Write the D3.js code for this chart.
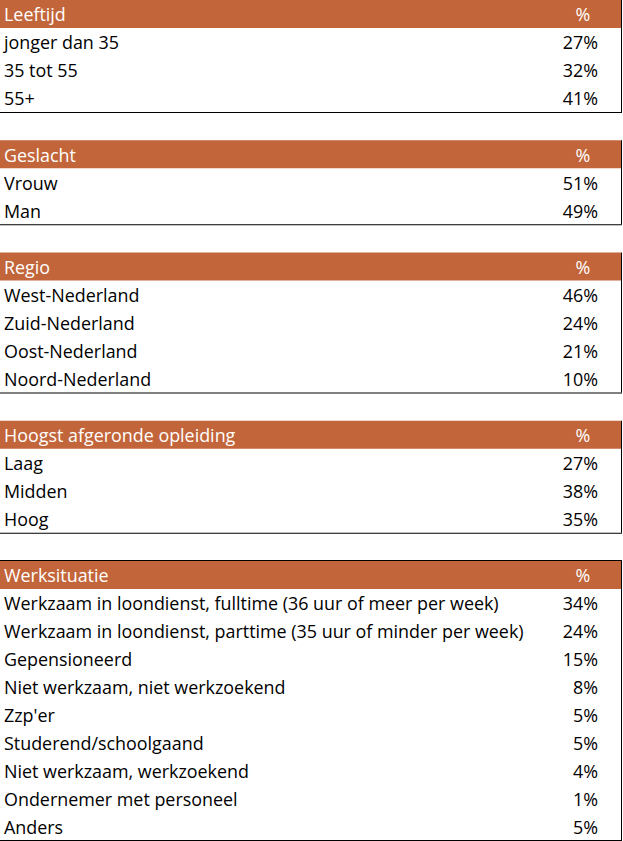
<!DOCTYPE html>
<html>
<head>
<meta charset="utf-8">
<script src="https://cdn.jsdelivr.net/npm/d3@7"></script>
<style>
  html, body { margin: 0; padding: 0; background: #fff; }
  svg { display: block; }
  text { font-family: "Open Sans", Lato, sans-serif; font-weight: 500; }
</style>
</head>
<body>
<div id="chart"></div>
<script>
// section titles
const sections = ['Leeftijd', 'Geslacht', 'Regio', 'Hoogst afgeronde opleiding', 'Werksituatie'];

// rows + values per section
const leeftijdCats = ['jonger dan 35', '35 tot 55', '55+'];
const leeftijdVals = [27, 32, 41];

const geslachtCats = ['Vrouw', 'Man'];
const geslachtVals = [51, 49];

const regioCats = ['West-Nederland', 'Zuid-Nederland', 'Oost-Nederland', 'Noord-Nederland'];
const regioVals = [46, 24, 21, 10];

const opleidingCats = ['Laag', 'Midden', 'Hoog'];
const opleidingVals = [27, 38, 35];

const werkCats = [
    'Werkzaam in loondienst, fulltime (36 uur of meer per week)',
    'Werkzaam in loondienst, parttime (35 uur of minder per week)',
    'Gepensioneerd',
    'Niet werkzaam, niet werkzoekend',
    "Zzp'er",
    'Studerend/schoolgaand',
    'Niet werkzaam, werkzoekend',
    'Ondernemer met personeel',
    'Anders'
];
const werkVals = [34, 24, 15, 8, 5, 5, 4, 1, 5];

const allCats = [leeftijdCats, geslachtCats, regioCats, opleidingCats, werkCats];
const allVals = [leeftijdVals, geslachtVals, regioVals, opleidingVals, werkVals];

const width = 623, height = 841;
const rowH = 28, gap = 28.25;
const tableRight = 621;
const orange = '#c3653a';
const fontSize = '17.9px';

let svg = d3.select('#chart').append('svg')
    .attr('width', width)
    .attr('height', height);

// vertical offsets of every table
let tops = [];
let acc = 0;
allCats.forEach(function(c) {
    tops.push(acc);
    acc += (c.length + 1) * rowH + gap;
});

sections.forEach(function(title, s) {
    let cats = allCats[s];
    let vals = allVals[s];
    let top = tops[s];
    let nRows = cats.length + 1;

    // row scale: header + data rows
    let y = d3.scaleBand()
        .domain(d3.range(nRows))
        .range([top, top + nRows * rowH]);

    let g = svg.append('g').attr('class', 'table');

    // header band
    g.append('rect')
        .attr('x', 0)
        .attr('y', y(0))
        .attr('width', tableRight)
        .attr('height', y.bandwidth())
        .attr('fill', orange);

    g.append('text')
        .attr('x', 4)
        .attr('y', y(0) + y.bandwidth() / 2 + 1)
        .attr('dy', '0.36em')
        .attr('fill', '#fff')
        .style('font-size', fontSize)
        .text(title);

    g.append('text')
        .attr('x', 583)
        .attr('y', y(0) + y.bandwidth() / 2 + 1)
        .attr('dy', '0.36em')
        .attr('text-anchor', 'middle')
        .attr('fill', '#fff')
        .style('font-size', fontSize)
        .text('%');

    // data rows
    let rows = g.selectAll('g.row')
        .data(cats)
        .enter().append('g')
        .attr('class', 'row')
        .attr('transform', function(d, i) {
            return 'translate(0,' + (y(i + 1) + y.bandwidth() / 2 + 1) + ')';
        });

    rows.append('text')
        .attr('x', 4)
        .attr('dy', '0.36em')
        .attr('fill', '#000')
        .style('font-size', fontSize)
        .text(function(d) { return d; });

    rows.append('text')
        .attr('x', 598)
        .attr('dy', '0.36em')
        .attr('text-anchor', 'end')
        .attr('fill', '#000')
        .style('font-size', fontSize)
        .text(function(d, i) { return vals[i] + '%'; });

    // borders: right edge and bottom line (top line on the last table)
    let bottom = Math.min(y(nRows - 1) + y.bandwidth(), height - 1);
    g.append('line')
        .attr('x1', tableRight + 0.5).attr('x2', tableRight + 0.5)
        .attr('y1', y(0)).attr('y2', bottom)
        .attr('stroke', '#000');
    g.append('line')
        .attr('x1', 0).attr('x2', tableRight + 1)
        .attr('y1', bottom + 0.5).attr('y2', bottom + 0.5)
        .attr('stroke', '#000');
    if (s == sections.length - 1) {
        g.append('line')
            .attr('x1', 0).attr('x2', tableRight + 1)
            .attr('y1', y(0) - 0.5).attr('y2', y(0) - 0.5)
            .attr('stroke', '#000');
    }
});
</script>
</body>
</html>
